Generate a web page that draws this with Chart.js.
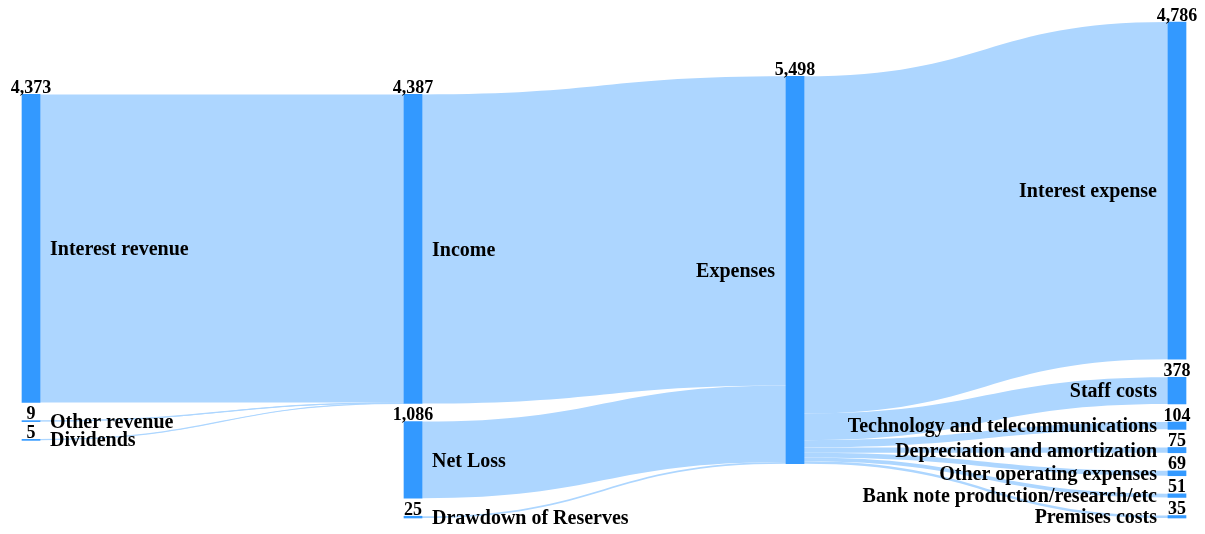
<!DOCTYPE html>
<html>
<head>
<meta charset="utf-8">
<title>Income and expenses</title>
<script src="https://cdn.jsdelivr.net/npm/chart.js@4.4.1/dist/chart.umd.min.js"></script>
<style>
  html, body { margin: 0; padding: 0; background: #fff; overflow: hidden; }
</style>
</head>
<body>
<canvas id="flows" width="1205" height="534"></canvas>
<script>
// nodes, listed in the order they are stacked inside each column
const nodeNames = [
  'Interest revenue', 'Other revenue', 'Dividends',
  'Income', 'Net Loss', 'Drawdown of Reserves',
  'Expenses',
  'Interest expense', 'Staff costs', 'Technology and telecommunications',
  'Depreciation and amortization', 'Other operating expenses',
  'Bank note production/research/etc', 'Premises costs'
];
const nodeColumns = [0, 0, 0, 1, 1, 1, 2, 3, 3, 3, 3, 3, 3, 3];

// links between nodes
const flowFrom = [
  'Interest revenue', 'Other revenue', 'Dividends',
  'Income', 'Net Loss', 'Drawdown of Reserves',
  'Expenses', 'Expenses', 'Expenses', 'Expenses', 'Expenses', 'Expenses', 'Expenses'
];
const flowTo = [
  'Income', 'Income', 'Income',
  'Expenses', 'Expenses', 'Expenses',
  'Interest expense', 'Staff costs', 'Technology and telecommunications',
  'Depreciation and amortization', 'Other operating expenses',
  'Bank note production/research/etc', 'Premises costs'
];
const flowValues = [4373, 9, 5, 4387, 1086, 25, 4786, 378, 104, 75, 69, 51, 35];

// how each column sits vertically
const columnAlign = ['target', 'bottom', 'center', 'top'];
const NODE_PAD = 257;   // gap between nodes, in value units

const NODE_COLOR = '#3399ff';
const FLOW_COLOR = '#add6ff';
const NAME_FONT = 'bold 20px "Liberation Serif", "Times New Roman", serif';
const VALUE_FONT = 'bold 18px "Liberation Serif", "Times New Roman", serif';
const NODE_WIDTH = 18;

// ---- layout ----
const nodeSize = nodeNames.map(n => {
  let inSum = 0, outSum = 0;
  flowFrom.forEach((f, k) => { if (f === n) outSum += flowValues[k]; });
  flowTo.forEach((t, k) => { if (t === n) inSum += flowValues[k]; });
  return Math.max(inSum, outSum);
});

const columns = [];
nodeNames.forEach((n, i) => {
  const c = nodeColumns[i];
  (columns[c] = columns[c] || []).push(i);
});
const lastCol = columns.length - 1;
const colHeight = columns.map(c => c.reduce((s, i) => s + nodeSize[i], 0) + (c.length - 1) * NODE_PAD);
const maxH = Math.max(...colHeight);

const nodeTop = [];
function stack(c, top) {
  let y = top;
  columns[c].forEach(i => { nodeTop[i] = y; y += nodeSize[i] + NODE_PAD; });
}
columnAlign.forEach((a, c) => {
  if (a === 'top') stack(c, 0);
  if (a === 'bottom') stack(c, maxH - colHeight[c]);
  if (a === 'center') stack(c, (maxH - colHeight[c]) / 2);
});
columnAlign.forEach((a, c) => {
  if (a === 'target') {
    const k = flowFrom.indexOf(nodeNames[columns[c][0]]);
    stack(c, nodeTop[nodeNames.indexOf(flowTo[k])]);
  }
});

const outUsed = nodeNames.map(() => 0);
const inUsed = nodeNames.map(() => 0);
const flows = flowValues.map((v, k) => {
  const s = nodeNames.indexOf(flowFrom[k]);
  const t = nodeNames.indexOf(flowTo[k]);
  const f = { s, t, v, y0: nodeTop[s] + outUsed[s], y1: nodeTop[t] + inUsed[t] };
  outUsed[s] += v;
  inUsed[t] += v;
  return f;
});

// ---- drawing ----
const sankeyFlows = {
  id: 'sankeyFlows',
  beforeDatasetsDraw(chart) {
    const { ctx, scales: { x, y } } = chart;
    ctx.save();
    ctx.fillStyle = FLOW_COLOR;
    ctx.strokeStyle = FLOW_COLOR;
    flows.forEach(f => {
      const xs = x.getPixelForValue(nodeColumns[f.s]) + NODE_WIDTH / 2;
      const xt = x.getPixelForValue(nodeColumns[f.t]) - NODE_WIDTH / 2;
      const xm = (xs + xt) / 2;
      const s0 = y.getPixelForValue(f.y0), s1 = y.getPixelForValue(f.y0 + f.v);
      const t0 = y.getPixelForValue(f.y1), t1 = y.getPixelForValue(f.y1 + f.v);
      ctx.beginPath();
      ctx.moveTo(xs, s0);
      ctx.bezierCurveTo(xm, s0, xm, t0, xt, t0);
      ctx.lineTo(xt, t1);
      ctx.bezierCurveTo(xm, t1, xm, s1, xs, s1);
      ctx.closePath();
      ctx.fill();
      if (s1 - s0 < 1.5) {
        // keep the thin links visible
        const sm = (s0 + s1) / 2, tm = (t0 + t1) / 2;
        ctx.lineWidth = 1.2;
        ctx.beginPath();
        ctx.moveTo(xs, sm);
        ctx.bezierCurveTo(xm, sm, xm, tm, xt, tm);
        ctx.stroke();
      }
    });
    ctx.restore();
  },
  afterDatasetsDraw(chart) {
    const { ctx, chartArea, scales: { x, y } } = chart;
    const midX = (chartArea.left + chartArea.right) / 2;
    ctx.save();
    ctx.fillStyle = '#000';
    nodeNames.forEach((name, i) => {
      const cx = x.getPixelForValue(nodeColumns[i]);
      const top = y.getPixelForValue(nodeTop[i]);
      const bottom = y.getPixelForValue(nodeTop[i] + nodeSize[i]);

      ctx.font = VALUE_FONT;
      const txt = nodeSize[i].toLocaleString('en-US');
      const w = ctx.measureText(txt).width;
      const vx = Math.min(Math.max(cx, w / 2 + 2), chart.width - w / 2 - 2);
      ctx.textAlign = 'center';
      ctx.textBaseline = 'alphabetic';
      ctx.fillText(txt, vx, top - 1.5);

      // names go on the inner side of the node: right in the left half, left in the right half
      ctx.font = NAME_FONT;
      ctx.textBaseline = 'middle';
      const onLeft = cx > midX;
      ctx.textAlign = onLeft ? 'right' : 'left';
      ctx.fillText(name, onLeft ? cx - NODE_WIDTH / 2 - 11 : cx + NODE_WIDTH / 2 + 10, (top + bottom) / 2 + 1.5);
    });
    ctx.restore();
  }
};

new Chart(document.getElementById('flows').getContext('2d'), {
  type: 'bar',
  data: {
    datasets: [{
      data: nodeNames.map((n, i) => ({ x: nodeColumns[i], y: [nodeTop[i], nodeTop[i] + nodeSize[i]] })),
      backgroundColor: NODE_COLOR,
      borderWidth: 0,
      barThickness: NODE_WIDTH,
      minBarLength: 1,
      clip: false
    }]
  },
  options: {
    responsive: false,
    animation: false,
    layout: { padding: { left: 31, right: 28, top: 22, bottom: 16 } },
    plugins: {
      legend: { display: false },
      tooltip: { enabled: false }
    },
    scales: {
      x: { type: 'linear', min: 0, max: lastCol, offset: false, display: false },
      y: { type: 'linear', min: 0, max: maxH, reverse: true, display: false }
    }
  },
  plugins: [sankeyFlows]
});
</script>
</body>
</html>
